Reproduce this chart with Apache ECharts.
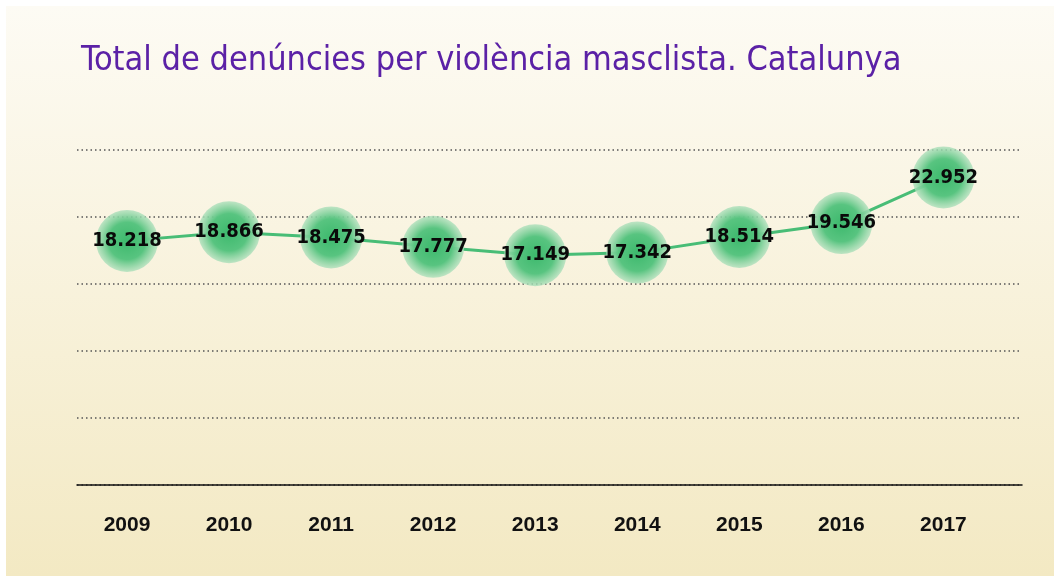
<!DOCTYPE html>
<html>
<head>
<meta charset="utf-8">
<script src="https://cdn.jsdelivr.net/npm/echarts@6/dist/echarts.min.js"></script>
<style>
  html, body { margin: 0; padding: 0; background: #ffffff; }
  #t1 { width: 1054px; height: 576px; }
</style>
</head>
<body>
<div id="t1"></div>
<script>
var years = ['2009', '2010', '2011', '2012', '2013', '2014', '2015', '2016', '2017'];
var denuncies = [18218, 18866, 18475, 17777, 17149, 17342, 18514, 19546, 22952];
var yTicks = [0, 5000, 10000, 15000, 20000, 25000];

function fmt(v) {
    return String(v).replace(/\B(?=(\d{3})+(?!\d))/g, '.');
}

var points = denuncies.map(function (v, i) { return [i, v]; });
var labelIdx = years.map(function (y, i) { return i; });

var option = {
    animation: false,
    graphic: [{
        type: 'rect',
        left: 6,
        top: 6,
        z: -10,
        shape: { width: 1048, height: 570 },
        style: {
            fill: new echarts.graphic.LinearGradient(0, 0, 0, 1, [
                { offset: 0, color: '#fdfbf4' },
                { offset: 1, color: '#f3e9c3' }
            ])
        }
    }],
    title: {
        text: 'Total de denúncies per violència masclista. Catalunya',
        left: 76,
        top: 39,
        textStyle: {
            fontFamily: '"DejaVu Sans Condensed", Roboto, sans-serif',
            fontWeight: 'normal',
            fontSize: 34,
            color: '#5b21a6'
        }
    },
    grid: {
        left: 77,
        right: 32,
        top: 150,
        bottom: 91
    },
    xAxis: {
        type: 'value',
        min: -0.49,
        max: 8.77,
        axisLine: { show: true, onZero: false, lineStyle: { color: '#111', width: 1.5 } },
        axisTick: { show: false },
        splitLine: { show: false },
        axisLabel: {
            customValues: labelIdx,
            margin: 30,
            formatter: function (v) { return years[Math.round(v)]; },
            fontFamily: 'Liberation Sans',
            fontWeight: 'bold',
            fontSize: 21,
            color: '#111'
        }
    },
    yAxis: {
        type: 'value',
        min: yTicks[0],
        max: yTicks[yTicks.length - 1],
        interval: 5000,
        axisLine: { show: false },
        axisTick: { show: false },
        axisLabel: { show: false },
        splitLine: {
            lineStyle: { color: '#555', type: [1.5, 3], width: 1.5 }
        }
    },
    series: [{
        type: 'line',
        data: points,
        symbol: 'circle',
        symbolSize: 62,
        lineStyle: { color: '#48bd76', width: 3 },
        itemStyle: {
            color: new echarts.graphic.RadialGradient(0.5, 0.5, 0.5, [
                { offset: 0, color: '#3db96d' },
                { offset: 0.6, color: '#58c480' },
                { offset: 1, color: 'rgba(175,224,188,0.8)' }
            ])
        },
        label: {
            show: true,
            position: 'inside',
            formatter: function (p) { return fmt(p.value[1]); },
            fontFamily: '"DejaVu Sans Condensed", "Liberation Sans", sans-serif',
            fontWeight: 'bold',
            fontSize: 20,
            color: '#0a0a0a'
        }
    }]
};
echarts.init(document.getElementById('t1')).setOption(option);
</script>
</body>
</html>
